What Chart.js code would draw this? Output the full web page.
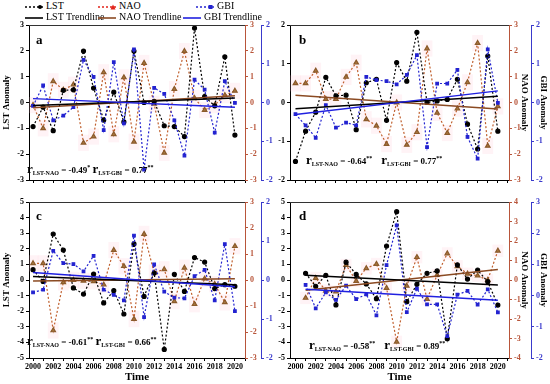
<!DOCTYPE html>
<html>
<head>
<meta charset="utf-8">
<script src="https://cdn.jsdelivr.net/npm/chart.js@4.4.0/dist/chart.umd.min.js"></script>
<style>
  body { margin: 0; background: #fff; }
  #wrap { position: relative; width: 550px; height: 384px; overflow: hidden; font-family: "Liberation Serif", serif; }
  canvas { position: absolute; }
  .txt { position: absolute; font-weight: bold; white-space: nowrap; color: #000; }
  .leg { position: absolute; font-size: 10px; white-space: nowrap; color: #000; }
  .leg svg { vertical-align: middle; margin-right: 3px; }
  .corr { font-size: 9px; }
  .corr .r { font-size: 13px; }
  .corr sub { font-size: 6px; vertical-align: -2px; }
  .corr sup { font-size: 6px; vertical-align: 4px; }
  .lbl { font-size: 13px; }
</style>
</head>
<body>
<div id="wrap">
  <canvas id="ca" width="290" height="177" style="left:0;top:18px"></canvas>
  <canvas id="cb" width="282" height="177" style="left:268px;top:18px"></canvas>
  <canvas id="cc" width="290" height="189" style="left:0;top:195px"></canvas>
  <canvas id="cd" width="282" height="189" style="left:268px;top:195px"></canvas>

  <div class="leg" style="left:25px;top:0px"><svg width="18" height="8"><line x1="0" y1="4" x2="18" y2="4" stroke="#000" stroke-width="1.3" stroke-dasharray="2,2"/><circle cx="15" cy="4" r="2" fill="#000"/></svg>LST</div>
  <div class="leg" style="left:98px;top:0px"><svg width="18" height="8"><line x1="0" y1="4" x2="18" y2="4" stroke="#e2231a" stroke-width="1.3" stroke-dasharray="2,2"/><path d="M15 1.5 L17.5 6.5 L12.5 6.5 Z" fill="#e2231a"/></svg>NAO</div>
  <div class="leg" style="left:196px;top:0px"><svg width="18" height="8"><line x1="0" y1="4" x2="18" y2="4" stroke="#2323d0" stroke-width="1.3" stroke-dasharray="2,2"/><rect x="12.5" y="2" width="4" height="4" fill="#2323d0"/></svg>GBI</div>
  <div class="leg" style="left:25px;top:11px"><svg width="18" height="8"><line x1="0" y1="4" x2="18" y2="4" stroke="#000" stroke-width="1.6"/></svg>LST Trendline</div>
  <div class="leg" style="left:98px;top:11px"><svg width="18" height="8"><line x1="0" y1="4" x2="18" y2="4" stroke="#8b4a22" stroke-width="1.6"/></svg>NAO Trendline</div>
  <div class="leg" style="left:183px;top:11px"><svg width="18" height="8"><line x1="0" y1="4" x2="18" y2="4" stroke="#2020e0" stroke-width="1.6"/></svg>GBI Trendline</div>

  <div class="txt lbl" style="left:36px;top:32px">a</div>
  <div class="txt lbl" style="left:299px;top:32px">b</div>
  <div class="txt lbl" style="left:36px;top:208px">c</div>
  <div class="txt lbl" style="left:299px;top:208px">d</div>

  <div class="txt corr" style="left:27px;top:161px"><span class="r">r</span><sub>LST-NAO</sub> = -0.49<sup>*</sup> <span class="r">r</span><sub>LST-GBI</sub> = 0.77<sup>**</sup></div>
  <div class="txt corr" style="left:306px;top:152px"><span class="r">r</span><sub>LST-NAO</sub> = -0.64<sup>**</sup>&nbsp;&nbsp;&nbsp; <span class="r">r</span><sub>LST-GBI</sub> = 0.77<sup>**</sup></div>
  <div class="txt corr" style="left:27px;top:333px"><span class="r">r</span><sub>LST-NAO</sub> = -0.61<sup>**</sup> <span class="r">r</span><sub>LST-GBI</sub> = 0.66<sup>**</sup></div>
  <div class="txt corr" style="left:309px;top:337px"><span class="r">r</span><sub>LST-NAO</sub> = -0.58<sup>**</sup>&nbsp;&nbsp;&nbsp; <span class="r">r</span><sub>LST-GBI</sub> = 0.89<sup>**</sup></div>
</div>

<script>
// años y series
var years = [2000, 2001, 2002, 2003, 2004, 2005, 2006, 2007, 2008, 2009, 2010, 2011, 2012, 2013, 2014, 2015, 2016, 2017, 2018, 2019, 2020];
var yearsD = [2001, 2002, 2003, 2004, 2005, 2006, 2007, 2008, 2009, 2010, 2011, 2012, 2013, 2014, 2015, 2016, 2017, 2018, 2019, 2020];

var lstA = [-0.93, -0.18, -1.09, 0.47, 0.49, 1.99, 0.56, -0.68, 0.40, -0.75, 1.99, 0.0, 0.04, -0.90, -0.93, -1.32, 2.88, 0.23, -0.13, 1.77, -1.26];
var naoA = [-0.10, -1.00, 0.82, 0.49, 0.69, -1.56, -1.32, 1.17, -1.23, 0.97, -1.52, 1.53, -0.05, -1.95, 0.52, 1.99, 0.17, -0.29, -0.10, 0.28, 0.45];
var gbiA = [-0.09, 0.44, -0.46, -0.34, -0.12, 1.10, 0.66, -0.71, 1.04, -0.54, 1.37, -1.73, 0.38, 0.22, -0.46, -1.37, 0.59, 0.33, -0.78, 0.55, -0.01];

var lstB = [-1.52, -0.74, -0.25, 0.65, 0.17, 0.19, -0.70, 0.51, 0.60, -0.46, 1.03, 0.55, 1.81, 0.0, 0.04, 0.08, 0.60, -0.56, -1.20, 1.20, -0.74];
var naoB = [0.74, 0.74, 1.23, 0.13, 0.13, 0.99, 1.54, -0.65, -0.90, -1.61, 0.0, -1.64, -1.15, 2.09, -0.40, -1.18, -0.24, 0.78, 2.30, -1.68, -0.15];
var gbiB = [-0.30, -0.59, -0.91, -0.07, -0.65, -0.52, -0.59, 0.66, 0.58, 0.55, 0.47, 0.71, 1.22, -1.15, 0.49, 0.49, 0.84, -0.89, -1.45, 1.37, -0.01];

var lstC = [0.66, -0.09, 2.95, 1.92, -0.51, -0.90, 0.38, -1.47, -0.68, -2.18, 2.31, -1.05, 0.45, -4.45, 0.37, -0.73, 1.44, 1.15, -0.55, -0.30, -0.40];
var naoC = [0.64, 0.64, -1.94, -0.09, 0.0, -0.03, -0.05, -0.18, 1.15, 0.53, -1.50, 1.77, 0.28, 0.41, -0.82, 0.47, -0.93, 0.05, -0.16, -0.86, 1.30];
var gbiC = [-0.32, -0.25, 0.75, 0.43, 0.41, 0.22, 0.62, -0.25, -0.38, -0.52, 1.14, -0.95, 0.40, -0.30, -0.45, -0.47, 0.10, 0.26, -0.52, 0.92, -0.80];

var lstD = [0.43, -0.40, 0.30, -1.60, 1.14, 0.36, -0.25, -1.20, 2.18, 4.38, -1.39, -0.28, 0.43, 0.58, -3.76, 0.97, 0.06, 0.64, -0.11, -1.61];
var naoD = [-0.92, 0.10, -0.55, -0.60, 0.77, -0.05, 0.60, 0.82, -0.41, -3.17, -0.30, 1.17, -0.98, 0.25, 1.36, 0.70, 0.32, 0.22, 0.0, 1.50];
var gbiD = [0.34, -0.41, 0.10, -0.14, 0.32, -0.11, 0.04, -0.63, 0.98, 2.25, -0.53, 0.22, -0.28, -0.28, -1.30, 0.03, 0.15, -0.29, 0.20, -0.54];

// líneas de tendencia: valores al inicio y al final
var trendYears = [2000, 2020];
var trendYearsD = [2001, 2020];
var tLstA = [-0.12, 0.17], tNaoA = [-0.20, 0.26], tGbiA = [0.10, -0.12];
var tLstB = [-0.16, 0.16], tNaoB = [0.28, -0.25], tGbiB = [-0.31, 0.30];
var tLstC = [0.22, -0.30], tNaoC = [-0.04, 0.05], tGbiC = [0.19, -0.17];
var tLstD = [0.30, -0.32], tNaoD = [-0.52, 0.54], tGbiD = [0.20, -0.15];

var negro = '#000000';
var cafe = '#c0602e';
var cafeTrend = '#8b4a22';
var cafeEje = '#b8553a';
var azul = '#2323d0';
var azulTrend = '#2020e0';
var fuente = { family: 'Liberation Serif', weight: 'bold', size: 8 };

function pts(xs, ys) {
    return ys.map(function (v, i) { return { x: xs[i], y: v }; });
}

// borde superior del marco
var marco = {
    id: 'marco',
    afterDraw: function (chart) {
        var a = chart.chartArea, ctx = chart.ctx;
        ctx.save();
        ctx.strokeStyle = '#333';
        ctx.lineWidth = 1;
        ctx.beginPath();
        ctx.moveTo(a.left, a.top + 0.5);
        ctx.lineTo(a.right, a.top + 0.5);
        ctx.stroke();
        ctx.restore();
    }
};

function eje(pos, min, max, color, titulo, ancho) {
    return {
        position: pos,
        min: min, max: max,
        ticks: { stepSize: 1, color: color, font: fuente, padding: 2 },
        grid: { drawOnChartArea: false, color: color, tickLength: 3 },
        border: { color: color, width: 1 },
        title: { display: !!titulo, text: titulo || '', color: '#000', font: { family: 'Liberation Serif', weight: 'bold', size: 9 }, padding: 1 },
        afterFit: function (s) { s.width = ancho; }
    };
}

function panel(id, xs, lst, nao, gbi, tx, tl, tn, tg, cfg) {
    var ctx = document.getElementById(id).getContext('2d');
    new Chart(ctx, {
        type: 'line',
        data: {
            datasets: [
                { label: 'LST', data: pts(xs, lst), yAxisID: 'y', borderColor: negro, backgroundColor: negro, borderWidth: 1.2, borderDash: [2, 2], pointStyle: 'circle', pointRadius: 2, order: 3 },
                { label: 'NAO', data: pts(xs, nao), yAxisID: 'yN', borderColor: cafe, backgroundColor: '#a8773f', pointBorderColor: '#8b5a2b', borderWidth: 1.2, borderDash: [2, 2], pointStyle: 'triangle', pointRadius: 2.6, order: 4 },
                { label: 'GBI', data: pts(xs, gbi), yAxisID: 'yG', borderColor: azul, backgroundColor: azul, borderWidth: 1.2, borderDash: [2, 2], pointStyle: 'rect', pointRadius: 1.8, order: 2 },
                { label: 'LST Trendline', data: pts(tx, tl), yAxisID: 'y', borderColor: negro, borderWidth: 1.5, pointRadius: 0, order: 1 },
                { label: 'NAO Trendline', data: pts(tx, tn), yAxisID: 'yN', borderColor: cafeTrend, borderWidth: 1.5, pointRadius: 0, order: 1 },
                { label: 'GBI Trendline', data: pts(tx, tg), yAxisID: 'yG', borderColor: azulTrend, borderWidth: 1.5, pointRadius: 0, order: 0 },
                { type: 'bar', label: 'banda', data: nao.map(function (v, i) { return { x: xs[i], y: [v - 0.3, v + 0.3] }; }), yAxisID: 'yN', backgroundColor: 'rgba(255,190,205,0.18)', barPercentage: 1, categoryPercentage: 1, order: 10 }
            ]
        },
        options: {
            responsive: false,
            animation: false,
            layout: { padding: { top: 7, left: 0, right: 0, bottom: 0 } },
            plugins: { legend: { display: false }, tooltip: { enabled: false } },
            scales: {
                x: {
                    type: 'linear', offset: false,
                    min: cfg.xmin, max: cfg.xmax,
                    ticks: {
                        stepSize: 1, includeBounds: false, autoSkip: false, maxRotation: 0, color: '#000', font: fuente, padding: 1,
                        callback: function (v) { return (cfg.xlab && v % 2 === 0) ? String(v) : ''; }
                    },
                    grid: { drawOnChartArea: false, offset: false, color: '#000', tickLength: 3 },
                    border: { color: '#000', width: 1 },
                    title: { display: cfg.xlab, text: 'Time', color: '#000', font: { family: 'Liberation Serif', weight: 'bold', size: 11 }, padding: 0 },
                    afterFit: function (s) { s.height = cfg.xh; }
                },
                y: eje('left', cfg.y[0], cfg.y[1], '#000', cfg.lstTit ? 'LST Anomaly' : '', cfg.wl),
                yN: eje('right', cfg.n[0], cfg.n[1], cafeEje, cfg.rTit ? 'NAO Anomaly' : '', cfg.wn),
                yG: eje('right', cfg.g[0], cfg.g[1], '#3a3acc', cfg.rTit ? 'GBI Anomaly' : '', cfg.wg)
            }
        },
        plugins: [marco]
    });
}

panel('ca', years, lstA, naoA, gbiA, trendYears, tLstA, tNaoA, tGbiA,
    { xmin: 1999.6, xmax: 2021, xlab: false, xh: 15, y: [-3, 3], n: [-3, 3], g: [-2, 2], lstTit: true, rTit: false, wl: 29, wn: 16, wg: 29 });
panel('cb', years, lstB, naoB, gbiB, trendYears, tLstB, tNaoB, tGbiB,
    { xmin: 1999.46, xmax: 2021.1, xlab: false, xh: 15, y: [-2, 2], n: [-3, 3], g: [-2, 2], lstTit: false, rTit: true, wl: 22, wn: 22, wg: 19 });
panel('cc', years, lstC, naoC, gbiC, trendYears, tLstC, tNaoC, tGbiC,
    { xmin: 1999.6, xmax: 2021, xlab: true, xh: 26, y: [-5, 5], n: [-3, 3], g: [-2, 2], lstTit: true, rTit: false, wl: 29, wn: 16, wg: 29 });
panel('cd', yearsD, lstD, naoD, gbiD, trendYearsD, tLstD, tNaoD, tGbiD,
    { xmin: 1999.46, xmax: 2021.1, xlab: true, xh: 26, y: [-5, 5], n: [-4, 4], g: [-2, 3], lstTit: false, rTit: true, wl: 22, wn: 22, wg: 19 });
</script>
</body>
</html>
